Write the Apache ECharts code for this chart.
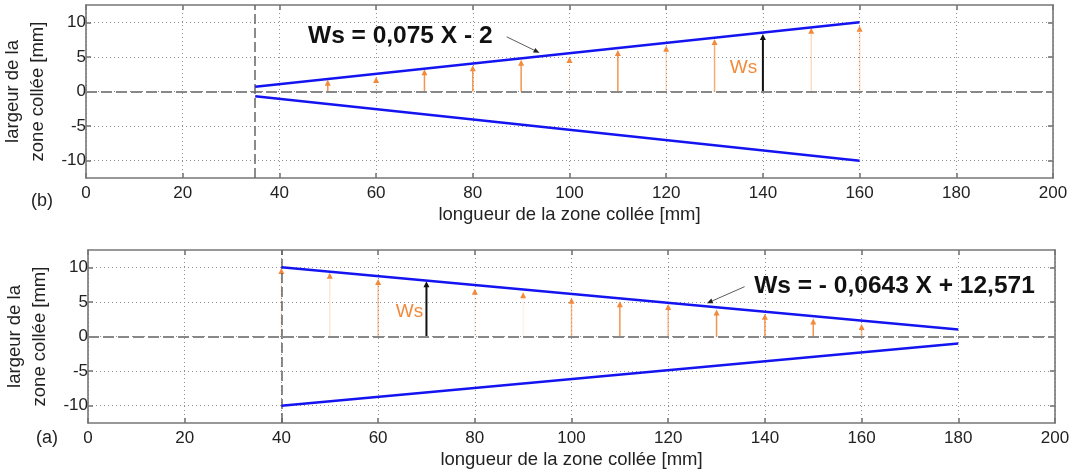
<!DOCTYPE html>
<html><head><meta charset="utf-8">
<script src="https://cdn.jsdelivr.net/npm/echarts@6/dist/echarts.min.js"></script>
<style>html,body{margin:0;padding:0;background:#fff}#c{width:1075px;height:473px}</style>
</head><body><div id="c"></div>
<script>
// ---- data ----
const xTickValues = [0, 20, 40, 60, 80, 100, 120, 140, 160, 180, 200];
const yTickValues = [-10, -5, 0, 5, 10];
const xTitle = 'longueur de la zone collée [mm]';
const yTitle = 'largeur de la\nzone collée [mm]';

// (b) top chart
const bStartX = 35;
const bUpper = [[35, 0.7], [160, 10]];
const bLower = [[35, -0.7], [160, -10]];
const bArrowX  = [50, 60, 70, 80, 90, 100, 110, 120, 130, 150, 160];
const bArrowWs = [1.7, 2.1, 3.2, 3.8, 4.6, 5.0, 6.0, 6.6, 7.6, 9.2, 9.5];
const bRefArrow = [[140, 8.3]];
const bEquation = 'Ws = 0,075 X - 2';

// (a) bottom chart
const aStartX = 40;
const aUpper = [[40, 10], [180, 1]];
const aLower = [[40, -10], [180, -1]];
const aArrowX  = [40, 50, 60, 80, 90, 100, 110, 120, 130, 140, 150, 160];
const aArrowWs = [9.9, 9.2, 8.3, 6.9, 6.4, 5.6, 5.1, 4.7, 3.9, 3.3, 2.6, 1.8];
const aRefArrow = [[70, 8.0]];
const aEquation = 'Ws = - 0,0643 X + 12,571';

// ---- styles ----
const bStemAlpha = [0.9, 0.12, 0.9, 0.9, 0.9, 0.12, 0.9, 0.3, 0.7, 0.3, 0.3];
const aStemAlpha = [0.2, 0.2, 0.5, 0.1, 0.1, 0.6, 0.9, 0.6, 0.9, 0.9, 0.9, 0.6];
const FONT = "'Liberation Sans', Arial, sans-serif";
const ORANGE = '#f28a3c';
const BLUE = '#1414f0';
const FRAME = '#777777';
const TXT = '#222';

const chart = echarts.init(document.getElementById('c'));

function arrowRender(color, alphas, width) {
  return function (params, api) {
    const x = api.value(0), v = api.value(1);
    const p0 = api.coord([x, 0]), p1 = api.coord([x, v]);
    const a = alphas ? alphas[params.dataIndex] : 1;
    const h = 6, w = 3;
    return {
      type: 'group', children: [
        { type: 'line', shape: { x1: p0[0], y1: p0[1], x2: p1[0], y2: p1[1] + h - 1 },
          style: { stroke: color, lineWidth: width, opacity: a } },
        { type: 'polygon', shape: { points: [[p1[0], p1[1]], [p1[0] - w, p1[1] + h], [p1[0] + w, p1[1] + h]] },
          style: { fill: color } }
      ]
    };
  };
}

function xAxes(gi) {
  return [
    { gridIndex: gi, type: 'value', min: 0, max: 200, interval: 20, position: 'bottom',
      name: xTitle, nameLocation: 'middle', nameGap: 27,
      nameTextStyle: { fontFamily: FONT, fontSize: 18.5, color: TXT },
      axisLine: { onZero: false, lineStyle: { color: FRAME, width: 1.6 } },
      axisTick: { inside: true, length: 5, lineStyle: { color: FRAME, width: 1.6 } },
      axisLabel: { margin: 7, fontFamily: FONT, fontSize: 17, color: TXT },
      splitLine: { show: true, lineStyle: { color: '#8f8f8f', type: [1, 3], width: 1 } } },
    { gridIndex: gi, type: 'value', min: 0, max: 200, interval: 20, position: 'top',
      axisLine: { onZero: false, lineStyle: { color: FRAME, width: 1.6 } },
      axisTick: { inside: true, length: 5, lineStyle: { color: FRAME, width: 1.6 } },
      axisLabel: { show: false }, splitLine: { show: false } }
  ];
}
function yAxes(gi) {
  return [
    { gridIndex: gi, type: 'value', min: -12.5, max: 12.5, position: 'left',
      name: yTitle, nameLocation: 'middle', nameGap: 25,
      nameTextStyle: { fontFamily: FONT, fontSize: 18.5, color: TXT, lineHeight: 25 },
      axisLine: { onZero: false, lineStyle: { color: FRAME, width: 1.6 } },
      axisTick: { inside: true, length: 5, customValues: yTickValues, lineStyle: { color: FRAME, width: 1.6 } },
      axisLabel: { margin: 0, customValues: yTickValues, fontFamily: FONT, fontSize: 17, color: TXT },
      splitLine: { show: true, lineStyle: { color: '#8f8f8f', type: [1, 3], width: 1 } } },
    { gridIndex: gi, type: 'value', min: -12.5, max: 12.5, position: 'right',
      axisLine: { onZero: false, lineStyle: { color: FRAME, width: 1.6 } },
      axisTick: { inside: true, length: 5, customValues: yTickValues, lineStyle: { color: FRAME, width: 1.6 } },
      axisLabel: { show: false }, splitLine: { show: false } }
  ];
}

function panelSeries(xi, yi, upper, lower, startX, arrowX, arrowWs, alphas, refArrow) {
  const refLines = {
    silent: true, symbol: 'none', label: { show: false },
    data: [
      { yAxis: 0, lineStyle: { color: '#888', width: 2, type: [11, 4] } },
      { xAxis: startX, lineStyle: { color: '#666', width: 1.5, type: [10, 4] } }
    ]
  };
  return [
    { type: 'line', xAxisIndex: xi, yAxisIndex: yi, data: [], markLine: refLines, z: 2 },
    { type: 'custom', xAxisIndex: xi, yAxisIndex: yi, renderItem: arrowRender(ORANGE, alphas, 1.5),
      data: arrowX.map((x, i) => [x, arrowWs[i]]), encode: { x: 0, y: 1 }, z: 3 },
    { type: 'custom', xAxisIndex: xi, yAxisIndex: yi, renderItem: arrowRender('#111', null, 2),
      data: refArrow, encode: { x: 0, y: 1 }, z: 4 },
    { type: 'line', xAxisIndex: xi, yAxisIndex: yi, data: upper, showSymbol: false,
      lineStyle: { color: BLUE, width: 2.5 }, z: 5 },
    { type: 'line', xAxisIndex: xi, yAxisIndex: yi, data: lower, showSymbol: false,
      lineStyle: { color: BLUE, width: 2.5 }, z: 5 }
  ];
}

chart.setOption({
  animation: false,
  backgroundColor: '#fff',
  grid: [
    { left: 86, right: 22, top: 5, height: 173, outerBoundsMode: 'none', containLabel: false },
    { left: 88, right: 20, top: 250, height: 173, outerBoundsMode: 'none', containLabel: false }
  ],
  xAxis: [...xAxes(0), ...xAxes(1)],
  yAxis: [...yAxes(0), ...yAxes(1)],
  series: [
    ...panelSeries(0, 0, bUpper, bLower, bStartX, bArrowX, bArrowWs, bStemAlpha, bRefArrow),
    ...panelSeries(2, 2, aUpper, aLower, aStartX, aArrowX, aArrowWs, aStemAlpha, aRefArrow)
  ]
});

// annotations positioned through the axes
function px(gi, pt) { return chart.convertToPixel({ xAxisIndex: gi * 2, yAxisIndex: gi * 2 }, pt); }
function leader(gi, from, to) {
  const a = px(gi, from), b = px(gi, to);
  const ang = Math.atan2(b[1] - a[1], b[0] - a[0]);
  const L = 6, W = 2.5;
  const bx = b[0] - L * Math.cos(ang), by = b[1] - L * Math.sin(ang);
  return [
    { type: 'line', shape: { x1: a[0], y1: a[1], x2: bx, y2: by }, style: { stroke: '#333', lineWidth: 0.8 } },
    { type: 'polygon', shape: { points: [b,
      [bx + W * Math.sin(ang), by - W * Math.cos(ang)],
      [bx - W * Math.sin(ang), by + W * Math.cos(ang)]] }, style: { fill: '#222' } }
  ];
}
function txt(gi, pt, text, style) {
  const p = px(gi, pt);
  return { type: 'text', x: p[0], y: p[1], style: Object.assign({ text: text, align: 'center', verticalAlign: 'middle', fontFamily: FONT }, style) };
}
const eqStyle = { fontSize: 24.5, fontWeight: 'bold', fill: '#111' };
const wsStyle = { fontSize: 19, fill: ORANGE };
chart.setOption({
  graphic: [
    txt(0, [65.0, 8.0], bEquation, eqStyle),
    ...leader(0, [87.0, 7.9], [93.8, 5.6]),
    txt(0, [136.0, 3.5], 'Ws', wsStyle),
    txt(1, [166.8, 7.25], aEquation, eqStyle),
    ...leader(1, [135.8, 7.2], [128.0, 4.8]),
    txt(1, [66.5, 3.6], 'Ws', wsStyle),
    { type: 'text', x: 42, y: 201, style: { text: '(b)', align: 'center', verticalAlign: 'middle', fontFamily: FONT, fontSize: 18, fill: TXT } },
    { type: 'text', x: 47, y: 438, style: { text: '(a)', align: 'center', verticalAlign: 'middle', fontFamily: FONT, fontSize: 18, fill: TXT } }
  ]
});
</script>
</body></html>
